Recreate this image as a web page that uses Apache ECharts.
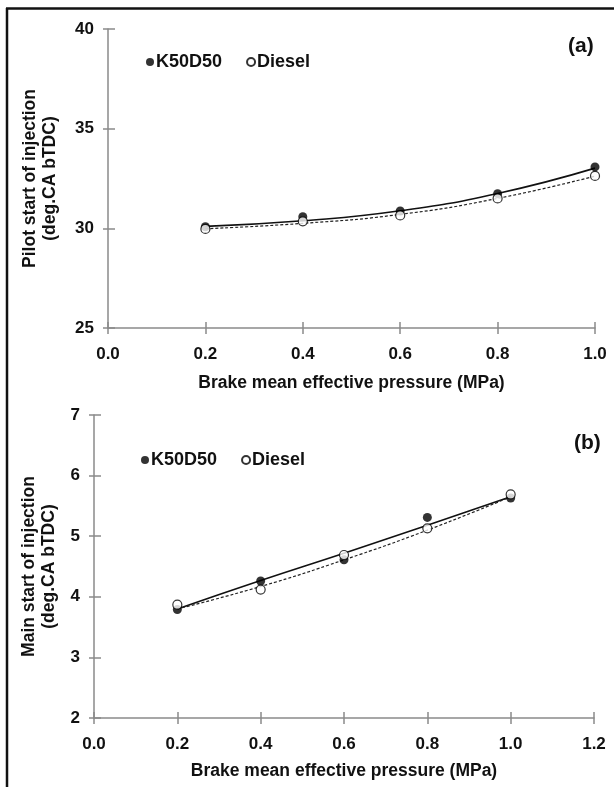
<!DOCTYPE html>
<html>
<head>
<meta charset="utf-8">
<script src="https://cdn.jsdelivr.net/npm/echarts@6/dist/echarts.min.js"></script>
<style>
  html, body { margin: 0; padding: 0; background: #fff; }
  #chart { width: 614px; height: 787px; }
</style>
</head>
<body>
<div id="chart"></div>
<script>
// bmep (MPa)
const bmep = [0.2, 0.4, 0.6, 0.8, 1.0];

// (a) pilot start of injection, deg.CA bTDC
const pilotK50D50 = [30.08, 30.58, 30.87, 31.74, 33.08];
const pilotDiesel = [29.97, 30.35, 30.65, 31.50, 32.63];
// trendlines
const pilotTrendK = [30.10, 30.38, 30.88, 31.75, 33.02];
const pilotTrendD = [29.98, 30.25, 30.70, 31.50, 32.62];

// (b) main start of injection, deg.CA bTDC
const mainK50D50 = [3.79, 4.26, 4.61, 5.31, 5.63];
const mainDiesel = [3.87, 4.12, 4.69, 5.13, 5.69];
const mainTrendK = [3.80, 4.27, 4.72, 5.18, 5.65];
const mainTrendD = [3.80, 4.17, 4.61, 5.10, 5.65];

const font = 'Liberation Sans';
const pair = (xs, ys) => xs.map((x, i) => [x, ys[i]]);

const chart = echarts.init(document.getElementById('chart'));

const axisColor = '#8a8a8a';
const axisLine = { lineStyle: { color: axisColor, width: 1.5 } };
const labelStyle = { color: '#111', fontFamily: font, fontWeight: 'bold', fontSize: 17 };
const nameStyle = { color: '#111', fontFamily: font, fontWeight: 'bold', fontSize: 17.5, lineHeight: 20 };

function xAx(gridIndex, max, gap) {
  return {
    type: 'value', gridIndex: gridIndex, position: 'bottom', min: 0, max: max, interval: 0.2,
    name: 'Brake mean effective pressure (MPa)', nameLocation: 'middle', nameGap: gap,
    nameTextStyle: nameStyle,
    axisLine: axisLine, splitLine: { show: false },
    axisTick: { show: true, length: 6, lineStyle: { color: axisColor, width: 1.5 } },
    axisLabel: Object.assign({ margin: 18, formatter: v => v.toFixed(1) }, labelStyle)
  };
}
function yAx(gridIndex, min, max, interval, name, gap) {
  return {
    type: 'value', gridIndex: gridIndex, position: 'left', min: min, max: max, interval: interval,
    name: name, nameLocation: 'middle', nameGap: gap, nameRotate: 90,
    nameTextStyle: nameStyle,
    axisLine: Object.assign({ show: true }, axisLine), splitLine: { show: false },
    axisTick: { show: true, length: 5, lineStyle: { color: axisColor, width: 1.5 } },
    axisLabel: Object.assign({ margin: 14 }, labelStyle)
  };
}
// second copy of each axis, only for the inner half of the crossing ticks
function innerTicks(base, len) {
  return Object.assign({}, base, {
    name: '', axisLabel: { show: false }, axisLine: { show: false },
    axisTick: { show: true, inside: true, length: len, lineStyle: { color: axisColor, width: 1.5 } }
  });
}
function dots(name, idx, data, filled) {
  return {
    name: name, type: 'scatter', xAxisIndex: idx, yAxisIndex: idx, data: data,
    symbol: 'circle', symbolSize: 9, z: 5,
    itemStyle: filled ? { color: '#000' } : { color: '#fff', borderColor: '#000', borderWidth: 1.2 }
  };
}
function trend(idx, data, dashed) {
  return {
    type: 'line', xAxisIndex: idx, yAxisIndex: idx, data: data, smooth: true,
    symbol: 'none', silent: true, z: 3,
    lineStyle: dashed ? { color: '#222', width: 1.2, type: [3, 2] } : { color: '#111', width: 1.6 }
  };
}
function legend(left, top, gap) {
  return {
    left: left, top: top, itemGap: gap, itemWidth: 8, itemHeight: 8,
    data: [{ name: 'K50D50', icon: 'circle' }, { name: 'Diesel', icon: 'circle' }],
    textStyle: { color: '#111', fontFamily: font, fontWeight: 'bold', fontSize: 18, padding: [0, 0, 0, -3] }
  };
}

const xA = xAx(0, 1.0, 45);
const xB = xAx(1, 1.2, 43);
const yA = yAx(0, 25, 40, 5, 'Pilot start of injection\n(deg.CA bTDC)', 48);
const yB = yAx(1, 2, 7, 1, 'Main start of injection\n(deg.CA bTDC)', 35);

chart.setOption({
  backgroundColor: '#fff',
  animation: false,
  grid: [
    { left: 108, right: 19, top: 29, bottom: 459 },
    { left: 94, right: 20, top: 415, bottom: 69 }
  ],
  xAxis: [xA, xB, innerTicks(xA, 6), innerTicks(xB, 6)],
  yAxis: [yA, yB, innerTicks(yA, 7), innerTicks(yB, 7)],
  legend: [legend(141, 48, 24), legend(136, 446, 24)],
  graphic: [
    { type: 'line', shape: { x1: 6, y1: 8.5, x2: 614, y2: 8.5 }, style: { stroke: '#111', lineWidth: 2.5 } },
    { type: 'line', shape: { x1: 7, y1: 8, x2: 7, y2: 787 }, style: { stroke: '#111', lineWidth: 2.5 } },
    { type: 'text', left: 568, top: 36, style: { text: '(a)', font: 'bold 21px ' + font, fill: '#111' } },
    { type: 'text', left: 574, top: 433, style: { text: '(b)', font: 'bold 21px ' + font, fill: '#111' } }
  ],
  series: [
    trend(0, pair(bmep, pilotTrendK), false),
    trend(0, pair(bmep, pilotTrendD), true),
    dots('K50D50', 0, pair(bmep, pilotK50D50), true),
    dots('Diesel', 0, pair(bmep, pilotDiesel), false),
    trend(1, pair(bmep, mainTrendK), false),
    trend(1, pair(bmep, mainTrendD), true),
    dots('K50D50', 1, pair(bmep, mainK50D50), true),
    dots('Diesel', 1, pair(bmep, mainDiesel), false)
  ]
});
</script>
</body>
</html>
